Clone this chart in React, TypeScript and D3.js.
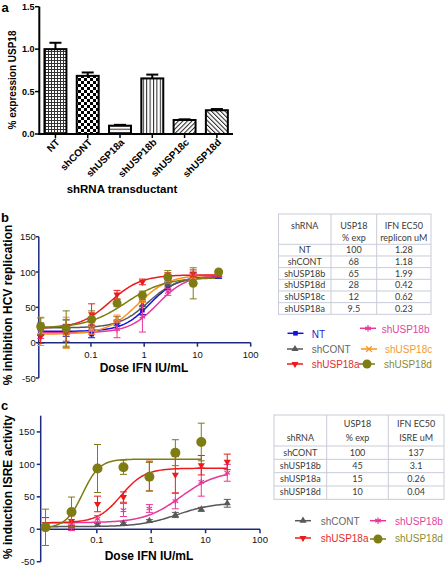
import React from 'react';
import * as d3 from 'd3';

// ---------- Panel a data ----------
const categories = ["NT", "shCONT", "shUSP18a", "shUSP18b", "shUSP18c", "shUSP18d"];
const expression = [1.0, 0.685, 0.098, 0.655, 0.165, 0.28];
const expressionErr = [0.075, 0.04, 0.01, 0.045, 0.008, 0.014];
const expressionTicks = [0, 0.5, 1.0, 1.5];

// ---------- Doses (IU/mL) ----------
const doses = [0.0114, 0.0343, 0.103, 0.309, 0.926, 2.78, 8.33, 25];
const doseTicks = [0.1, 1, 10, 100];

// ---------- Panel b data (% inhibition HCV replication) ----------
const bNT = [16, 17, 12, 28, 46, 80, 91, 95];
const bNTErr = [6, 8, 5, 4, 6, 5, 8, 4];
const bCONT = [20, 22, 24, 32, 53, 83, 92, 96];
const bCONTErr = [8, 10, 6, 5, 5, 4, 6, 3];
const bA = [9, 14, 40, 68, 86, 94, 98, 97];
const bAErr = [10, 12, 15, 6, 4, 5, 5, 3];
const bB = [14, 13, 18, 19, 37, 72, 90, 97];
const bBErr = [8, 20, 6, 12, 22, 5, 6, 4];
const bC = [16, 14, 20, 34, 62, 89, 94, 98];
const bCErr = [20, 22, 8, 5, 5, 5, 4, 3];
const bD = [23, 20, 33, 56, 67, 93, 84, 100];
const bDErr = [12, 25, 12, 5, 6, 9, 22, 3];
// fits: bottom, top, EC50, hill
const bNTFit = [16, 94, 1.28, 1.7];
const bCONTFit = [21, 93, 1.18, 1.6];
const bAFit = [20, 96, 0.23, 1.5];
const bBFit = [14, 96, 1.8, 1.6];
const bCFit = [12, 96, 0.75, 1.5];
const bDFit = [21, 92, 0.45, 1.2];
const bTicks = [-50, 0, 50, 100, 150];

// ---------- Panel c data (% induction ISRE activity) ----------
const cCONT = [3, 4, 6.6, 9, 12.8, 22, 30.7, 40];
const cCONTErr = [2, 2, 2, 2, 2, 4, 3, 6];
const cB = [8, 3, 16, 29.6, 32, 43.5, 73, 87];
const cBErr = [10, 5, 5, 10, 6, 12, 22, 13];
const cA = [8, 12.8, 39, 49.6, 82, 84, 98.7, 103.8];
const cAErr = [10, 8, 12, 8, 23, 28, 15, 12];
const cD = [3, 26.6, 93.6, 95.6, 81, 118, 134.5];
const cDErr = [28, 23, 37, 11, 22, 20, 29];
const cCONTFit = [4, 41, 3, 1.3];
const cBFit = [10, 90, 3.5, 1.3];
const cAFit = [10, 94, 0.28, 2];
const cDFit = [2, 108, 0.055, 2.8];
const cTicks = [-50, 0, 50, 100, 150];

// ---------- Tables ----------
const tableBShrna = ["NT", "shCONT", "shUSP18b", "shUSP18d", "shUSP18c", "shUSP18a"];
const tableBExp = ["100", "68", "65", "28", "12", "9.5"];
const tableBEc50 = ["1.28", "1.18", "1.99", "0.42", "0.62", "0.23"];
const tableCShrna = ["shCONT", "shUSP18b", "shUSP18a", "shUSP18d"];
const tableCExp = ["100", "45", "15", "10"];
const tableCEc50 = ["137", "3.1", "0.26", "0.04"];

const FONT = "'Liberation Sans', Arial, sans-serif";
const TFONT = "Lato, 'Open Sans', sans-serif";
const NAVY = '#1c2a80';

const COL = {
  NT: '#1414d8',
  shCONT: '#585858',
  shUSP18a: '#ec1b1b',
  shUSP18b: '#e8369a',
  shUSP18c: '#f7931e',
  shUSP18d: '#7d7d14',
};
const TXT = {
  NT: '#2424c8',
  shCONT: '#666666',
  shUSP18a: '#e32b2b',
  shUSP18b: '#e0449d',
  shUSP18c: '#f29a3a',
  shUSP18d: '#8a8a32',
};

type Ser = { name: string; values: number[]; errors: number[]; fit: number[]; shape: string };

const seriesB: Ser[] = [
  { name: 'NT', values: bNT, errors: bNTErr, fit: bNTFit, shape: 'square' },
  { name: 'shCONT', values: bCONT, errors: bCONTErr, fit: bCONTFit, shape: 'triUp' },
  { name: 'shUSP18b', values: bB, errors: bBErr, fit: bBFit, shape: 'asterisk' },
  { name: 'shUSP18c', values: bC, errors: bCErr, fit: bCFit, shape: 'plus' },
  { name: 'shUSP18a', values: bA, errors: bAErr, fit: bAFit, shape: 'triDown' },
  { name: 'shUSP18d', values: bD, errors: bDErr, fit: bDFit, shape: 'circle' },
];
const seriesC: Ser[] = [
  { name: 'shCONT', values: cCONT, errors: cCONTErr, fit: cCONTFit, shape: 'triUp' },
  { name: 'shUSP18b', values: cB, errors: cBErr, fit: cBFit, shape: 'asterisk' },
  { name: 'shUSP18a', values: cA, errors: cAErr, fit: cAFit, shape: 'triDown' },
  { name: 'shUSP18d', values: cD, errors: cDErr, fit: cDFit, shape: 'circle' },
];

function logistic(fit: number[], x: number) {
  const [bot, top, ec, h] = fit;
  return bot + (top - bot) / (1 + Math.pow(ec / x, h));
}

function Marker({ shape, x, y, color, big }: any) {
  const t = `translate(${x},${y})`;
  switch (shape) {
    case 'square':
      return <rect x={x - 2.3} y={y - 2.3} width={4.6} height={4.6} fill={color} />;
    case 'triUp':
      return <path transform={t} d={d3.symbol(d3.symbolTriangle, 22)() as string} fill={color} />;
    case 'triDown':
      return <path transform={t + ' rotate(180)'} d={d3.symbol(d3.symbolTriangle, 22)() as string} fill={color} />;
    case 'circle':
      return <circle cx={x} cy={y} r={big ? 5 : 4.5} fill={color} />;
    case 'asterisk':
      return <path transform={t} d={d3.symbol(d3.symbolAsterisk, 28)() as string} stroke={color} strokeWidth={1.2} fill="none" />;
    case 'plus':
      return <path transform={t} d={d3.symbol(d3.symbolTimes, 22)() as string} stroke={color} strokeWidth={1.2} fill="none" />;
    default:
      return null;
  }
}

function DosePanel({ series, x, y, big }: any) {
  return (
    <g>
      {series.map((s: Ser) => {
        const n = s.values.length;
        const lo = Math.log10(doses[0]);
        const hi = Math.log10(doses[n - 1]);
        const xs = d3.range(0, 121).map((i) => Math.pow(10, lo + ((hi - lo) * i) / 120));
        const path = d3
          .line<number>()
          .x((d) => x(d))
          .y((d) => y(logistic(s.fit, d)))(xs);
        return (
          <path key={'c' + s.name} d={path as string} fill="none" stroke={(COL as any)[s.name]} strokeWidth={1.5} />
        );
      })}
      {series.map((s: Ser) => (
        <g key={'p' + s.name}>
          {s.values.map((v, i) => {
            const cx = x(doses[i]);
            const c = (COL as any)[s.name];
            const yt = y(v + s.errors[i]);
            const yb = y(v - s.errors[i]);
            return (
              <g key={i}>
                <line x1={cx} x2={cx} y1={yt} y2={yb} stroke={c} strokeWidth={1} />
                <line x1={cx - 3.5} x2={cx + 3.5} y1={yt} y2={yt} stroke={c} strokeWidth={1} />
                <line x1={cx - 3.5} x2={cx + 3.5} y1={yb} y2={yb} stroke={c} strokeWidth={1} />
                <Marker shape={s.shape} x={cx} y={y(v)} color={c} big={big} />
              </g>
            );
          })}
        </g>
      ))}
    </g>
  );
}

function Axes({ x, y, yTicks, yTop, tickLen, labelGap, xLabelDy }: any) {
  const [x0, x1] = x.range();
  const y0 = y(0);
  return (
    <g fontFamily={FONT} fontSize={9.5} fill="#111">
      <line x1={x0} x2={x0} y1={yTop} y2={y(-50)} stroke={NAVY} strokeWidth={1.5} />
      <line x1={x0} x2={x1} y1={y0} y2={y0} stroke={NAVY} strokeWidth={1.5} />
      {yTicks.map((t: number) => (
        <g key={t}>
          <line x1={x0 - tickLen} x2={x0} y1={y(t)} y2={y(t)} stroke={NAVY} strokeWidth={1.5} />
          <text x={x0 - labelGap} y={y(t) + 3.5} textAnchor="end">
            {t < 0 ? '-' + Math.abs(t) : String(t)}
          </text>
        </g>
      ))}
      {doseTicks.map((t) => (
        <g key={t}>
          <line x1={x(t)} x2={x(t)} y1={y0} y2={y0 + 4} stroke={NAVY} strokeWidth={1.5} />
          <text x={x(t)} y={y0 + xLabelDy} textAnchor="middle">
            {String(t)}
          </text>
        </g>
      ))}
    </g>
  );
}

function LegendItem({ name, shape, x, y, tx, ty }: any) {
  const c = (COL as any)[name];
  return (
    <g>
      <line x1={x} x2={x + 16} y1={y} y2={y} stroke={c} strokeWidth={1.5} />
      <Marker shape={shape} x={x + 8} y={y} color={c} />
      <text x={tx} y={ty} fill={(TXT as any)[name]} fontFamily={FONT} fontSize={10}>
        {name}
      </text>
    </g>
  );
}

function Table({ left, cols, top, headerBottom, rowH, rows, header, rowDy }: any) {
  const right = cols[cols.length - 1];
  const n = rows[0].length;
  const bottom = headerBottom + n * rowH;
  const all = [left, ...cols];
  const cent = all.slice(0, -1).map((c: number, i: number) => (c + all[i + 1]) / 2);
  return (
    <g fontFamily={TFONT} fontSize={9} fill="#3a3a3a">
      <rect x={left} y={top} width={right - left} height={bottom - top} fill="#fff" stroke="#c8ccd8" strokeWidth={1} />
      {all.slice(1, -1).map((c: number) => (
        <line key={c} x1={c} x2={c} y1={top} y2={bottom} stroke="#c8ccd8" />
      ))}
      <line x1={left} x2={right} y1={headerBottom} y2={headerBottom} stroke="#c8ccd8" />
      {d3.range(1, n).map((i) => (
        <line key={i} x1={left} x2={right} y1={headerBottom + i * rowH} y2={headerBottom + i * rowH} stroke="#c8ccd8" />
      ))}
      {header.map((h: any, ci: number) =>
        h.map((t: any, k: number) => (
          <text key={ci + '-' + k} x={cent[ci]} y={t[1]} textAnchor="middle">
            {t[0]}
          </text>
        ))
      )}
      {rows.map((col: string[], ci: number) =>
        col.map((t, ri) => (
          <text key={ci + '_' + ri} x={cent[ci]} y={headerBottom + ri * rowH + rowDy} textAnchor="middle">
            {t}
          </text>
        ))
      )}
    </g>
  );
}

export default function App() {
  // panel a scales
  const xa = d3.scaleBand<string>().domain(categories).range([39.3, 233]).paddingInner(0.32).paddingOuter(0.16);
  const ya = d3.scaleLinear().domain([0, 1.5]).range([134, 6.7]);
  const fills = ['url(#pNT)', 'url(#pCONT)', 'url(#pA)', 'url(#pB)', 'url(#pC)', 'url(#pD)'];

  // panel b scales
  const xb = d3.scaleLog().domain([0.0105, 100]).range([38.8, 250.7]);
  const yb = d3.scaleLinear().domain([-50, 150]).range([378, 236.7]);
  // panel c scales
  const xc = d3.scaleLog().domain([0.0093, 100]).range([40.7, 260]);
  const yc = d3.scaleLinear().domain([-50, 175]).range([561.7, 415.7]);

  return (
    <svg width={448} height={566} style={{ position: 'absolute', left: 0, top: 0, background: '#fff' }}>
      <defs>
        <pattern id="pNT" width={3} height={3} patternUnits="userSpaceOnUse">
          <rect width={3} height={3} fill="#fff" />
          <path d="M0 0.5H3M0.5 0V3" stroke="#333" strokeWidth={1} />
        </pattern>
        <pattern id="pCONT" width={6} height={6} patternUnits="userSpaceOnUse">
          <rect width={6} height={6} fill="#fff" />
          <rect width={3} height={3} fill="#000" />
          <rect x={3} y={3} width={3} height={3} fill="#000" />
        </pattern>
        <pattern id="pA" width={3.3} height={3.3} patternUnits="userSpaceOnUse">
          <rect width={3.3} height={3.3} fill="#fff" />
          <path d="M0 0.5H3.3" stroke="#222" strokeWidth={1} />
        </pattern>
        <pattern id="pB" width={3.4} height={3.4} patternUnits="userSpaceOnUse">
          <rect width={3.4} height={3.4} fill="#fff" />
          <path d="M0.5 0V3.4" stroke="#222" strokeWidth={1} />
        </pattern>
        <pattern id="pC" width={3.2} height={3.2} patternUnits="userSpaceOnUse" patternTransform="rotate(45)">
          <rect width={3.2} height={3.2} fill="#fff" />
          <path d="M0.5 0V3.2" stroke="#222" strokeWidth={1} />
        </pattern>
        <pattern id="pD" width={3.2} height={3.2} patternUnits="userSpaceOnUse" patternTransform="rotate(-45)">
          <rect width={3.2} height={3.2} fill="#fff" />
          <path d="M0.5 0V3.2" stroke="#222" strokeWidth={1} />
        </pattern>
      </defs>

      {/* panel labels */}
      <g fontFamily={FONT} fontWeight="bold" fontSize={13} fill="#000">
        <text x={1.5} y={11.5}>a</text>
        <text x={1} y={222}>b</text>
        <text x={1} y={410}>c</text>
      </g>

      {/* ---------- Panel a ---------- */}
      <g>
        {categories.map((c, i) => {
          const x0 = xa(c) as number;
          const w = xa.bandwidth();
          const cx = x0 + w / 2;
          const top = ya(expression[i]);
          const et = ya(expression[i] + expressionErr[i]);
          return (
            <g key={c}>
              <rect x={x0} y={top} width={w} height={ya(0) - top} fill={fills[i]} stroke="#000" strokeWidth={2} />
              <line x1={cx} x2={cx} y1={top} y2={et} stroke="#000" strokeWidth={2} />
              <line x1={cx - 6} x2={cx + 6} y1={et} y2={et} stroke="#000" strokeWidth={2} />
            </g>
          );
        })}
        <line x1={39.3} x2={39.3} y1={ya(1.5)} y2={ya(0) + 1} stroke="#000" strokeWidth={2} />
        <line x1={38.3} x2={233} y1={ya(0)} y2={ya(0)} stroke="#000" strokeWidth={2} />
        {expressionTicks.map((t) => (
          <g key={t}>
            <line x1={35} x2={39.3} y1={ya(t)} y2={ya(t)} stroke="#000" strokeWidth={1.5} />
            <text x={34.5} y={ya(t) + 3.3} textAnchor="end" fontFamily={FONT} fontWeight="bold" fontSize={9}>
              {t.toFixed(1)}
            </text>
          </g>
        ))}
        {categories.map((c) => {
          const cx = (xa(c) as number) + xa.bandwidth() / 2;
          return (
            <g key={'t' + c}>
              <line x1={cx} x2={cx} y1={ya(0)} y2={ya(0) + 4} stroke="#000" strokeWidth={1.5} />
              <text
                transform={`translate(${cx + 5},${ya(0) + 9}) rotate(-45)`}
                textAnchor="end"
                fontFamily={FONT}
                fontWeight="bold"
                fontSize={10}
              >
                {c}
              </text>
            </g>
          );
        })}
        <text x={122} y={193} textAnchor="middle" fontFamily={FONT} fontWeight="bold" fontSize={11.5}>
          shRNA transductant
        </text>
        <text transform="translate(16,80) rotate(-90)" textAnchor="middle" fontFamily={FONT} fontWeight="bold" fontSize={10}>
          % expression USP18
        </text>
      </g>

      {/* ---------- Panel b ---------- */}
      <Axes x={xb} y={yb} yTicks={bTicks} yTop={yb(150)} tickLen={3} labelGap={3} xLabelDy={15.5} />
      <DosePanel series={seriesB} x={xb} y={yb} />
      <text x={144} y={372} textAnchor="middle" fontFamily={FONT} fontWeight="bold" fontSize={12}>
        Dose IFN IU/mL
      </text>
      <text transform="translate(12,305) rotate(-90)" textAnchor="middle" fontFamily={FONT} fontWeight="bold" fontSize={12}>
        % inhibition HCV replication
      </text>
      <Table
        left={278.5}
        cols={[331, 376.7, 431]}
        top={214}
        headerBottom={244.3}
        rowH={11.67}
        rowDy={9}
        rows={[tableBShrna, tableBExp, tableBEc50]}
        header={[
          [['shRNA', 228.7]],
          [['USP18', 228.7], ['% exp', 240.7]],
          [['IFN EC50', 228.7], ['replicon uM', 240.7]],
        ]}
      />
      <LegendItem name="NT" shape="square" x={287.5} y={333.3} tx={311.7} ty={337.5} />
      <LegendItem name="shUSP18b" shape="asterisk" x={360} y={328.3} tx={381.7} ty={332.5} />
      <LegendItem name="shCONT" shape="triUp" x={287} y={349} tx={311.7} ty={353} />
      <LegendItem name="shUSP18c" shape="plus" x={361} y={349} tx={385} ty={353} />
      <LegendItem name="shUSP18a" shape="triDown" x={287} y={364} tx={311.7} ty={368} />
      <LegendItem name="shUSP18d" shape="circle" x={359} y={364} tx={384} ty={368} />

      {/* ---------- Panel c ---------- */}
      <Axes x={xc} y={yc} yTicks={cTicks} yTop={yc(175)} tickLen={4} labelGap={6} xLabelDy={13.5} />
      <DosePanel series={seriesC} x={xc} y={yc} big />
      <text x={149} y={560} textAnchor="middle" fontFamily={FONT} fontWeight="bold" fontSize={12}>
        Dose IFN IU/mL
      </text>
      <text transform="translate(12,487) rotate(-90)" textAnchor="middle" fontFamily={FONT} fontWeight="bold" fontSize={12}>
        % induction ISRE activity
      </text>
      <Table
        left={274}
        cols={[326.7, 388.3, 444]}
        top={415}
        headerBottom={446}
        rowH={13.33}
        rowDy={9.5}
        rows={[tableCShrna, tableCExp, tableCEc50]}
        header={[
          [['shRNA', 440.7]],
          [['USP18', 427.3], ['% exp', 440.7]],
          [['IFN EC50', 427.3], ['ISRE uM', 440.7]],
        ]}
      />
      <LegendItem name="shCONT" shape="triUp" x={295} y={520.7} tx={320.7} ty={525} />
      <LegendItem name="shUSP18b" shape="asterisk" x={370} y={520.7} tx={395} ty={525} />
      <LegendItem name="shUSP18a" shape="triDown" x={295} y={538} tx={320.7} ty={542} />
      <LegendItem name="shUSP18d" shape="circle" x={370} y={539} tx={395} ty={542} />
    </svg>
  );
}
